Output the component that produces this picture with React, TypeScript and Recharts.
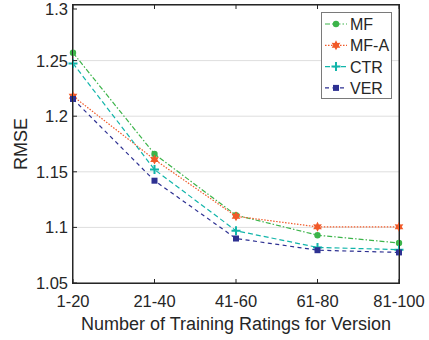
import { LineChart, Line, XAxis, YAxis, CartesianGrid } from 'recharts';

const buckets = ['1-20', '21-40', '41-60', '61-80', '81-100'];
const mf = [1.257, 1.166, 1.111, 1.093, 1.086];
const mfA = [1.218, 1.161, 1.11, 1.1005, 1.1005];
const ctr = [1.2475, 1.152, 1.097, 1.082, 1.08];
const ver = [1.2155, 1.142, 1.09, 1.0795, 1.0775];
const yTicks = [1.05, 1.1, 1.15, 1.2, 1.25, 1.3];

const INK = '#262626';
const FONT = '"Liberation Sans", Arial, Helvetica, sans-serif';

const series = [
  { key: 'MF', name: 'MF', color: '#3cb44a', dash: '5 2 1.5 2', marker: 'circle' },
  { key: 'MFA', name: 'MF-A', color: '#f15a29', dash: '1.5 1.5', marker: 'star' },
  { key: 'CTR', name: 'CTR', color: '#12b5aa', dash: '5 3', marker: 'plus' },
  { key: 'VER', name: 'VER', color: '#2e3192', dash: '4 3.5', marker: 'square' },
];

const data = buckets.map((b, i) => ({
  bucket: b,
  MF: mf[i],
  MFA: mfA[i],
  CTR: ctr[i],
  VER: ver[i],
}));

function Marker({ cx, cy, kind, color }: { cx: number; cy: number; kind: string; color: string }) {
  if (kind === 'circle') return <circle cx={cx} cy={cy} r={3.2} fill={color} />;
  if (kind === 'square') return <rect x={cx - 3} y={cy - 3} width={6} height={6} fill={color} />;
  if (kind === 'plus')
    return (
      <path d={`M${cx - 4.5},${cy}H${cx + 4.5}M${cx},${cy - 4.5}V${cy + 4.5}`} stroke={color} strokeWidth={2} fill="none" />
    );
  // six-pointed star
  const pts: string[] = [];
  for (let i = 0; i < 12; i++) {
    const r = i % 2 === 0 ? 5 : 2.8;
    const a = (Math.PI / 6) * i - Math.PI / 2;
    pts.push(`${cx + r * Math.cos(a)},${cy + r * Math.sin(a)}`);
  }
  return <polygon points={pts.join(' ')} fill={color} />;
}

function XTick({ x, y, payload }: any) {
  return (
    <g>
      <line x1={x} x2={x} y1={y} y2={y - 4} stroke={INK} strokeWidth={1} />
      <text x={x} y={y + 24} textAnchor="middle" fill={INK} fontSize={16.5} fontFamily={FONT}>
        {payload.value}
      </text>
    </g>
  );
}

function XTopTick({ x, y }: any) {
  return <line x1={x} x2={x} y1={y} y2={y + 4} stroke={INK} strokeWidth={1} />;
}

function YTick({ x, y, payload }: any) {
  return (
    <g>
      <line x1={x} x2={x + 4} y1={y} y2={y} stroke={INK} strokeWidth={1} />
      <text x={x - 5} y={y + 6} textAnchor="end" fill={INK} fontSize={16.5} fontFamily={FONT}>
        {payload.value}
      </text>
    </g>
  );
}

function YRightTick({ x, y }: any) {
  return <line x1={x} x2={x - 4} y1={y} y2={y} stroke={INK} strokeWidth={1} />;
}

function LegendBox() {
  return (
    <div
      style={{
        position: 'absolute',
        left: 321,
        top: 12,
        width: 71,
        height: 87,
        background: '#fff',
        border: '1px solid #7a7a7a',
        boxSizing: 'border-box',
      }}
    >
      <svg width={70} height={86} style={{ position: 'absolute', left: -1, top: -1 }}>
        {series.map((s, i) => {
          const cy = 12 + i * 21.3;
          return (
            <g key={s.key}>
              <line x1={4} x2={26} y1={cy} y2={cy} stroke={s.color} strokeWidth={1.2} strokeDasharray={s.dash} />
              <Marker cx={15} cy={cy} kind={s.marker} color={s.color} />
              <text x={29} y={cy + 6} fill={INK} fontSize={16} fontFamily={FONT}>
                {s.name}
              </text>
            </g>
          );
        })}
      </svg>
    </div>
  );
}

export default function App() {
  return (
    <div style={{ position: 'absolute', left: 0, top: 0, width: 429, height: 340, background: '#fff' }}>
      <LineChart width={429} height={340} data={data} margin={{ top: 4, right: 29, bottom: 0, left: 0 }}>
        <CartesianGrid vertical={false} stroke="#dedede" strokeWidth={1} />
        <XAxis
          dataKey="bucket"
          height={57}
          tick={<XTick />}
          tickLine={false}
          tickSize={0}
          tickMargin={0}
          axisLine={{ stroke: INK, strokeWidth: 1 }}
          interval={0}
          label={{ value: 'Number of Training Ratings for Version', position: 'insideBottom', offset: 10, fill: INK, fontSize: 18, fontFamily: FONT }}
        />
        <XAxis
          dataKey="bucket"
          xAxisId="top"
          orientation="top"
          height={1}
          tick={<XTopTick />}
          tickLine={false}
          tickSize={0}
          tickMargin={0}
          axisLine={{ stroke: INK, strokeWidth: 1 }}
          interval={0}
        />
        <YAxis
          width={73}
          domain={[1.05, 1.3]}
          ticks={yTicks}
          tick={<YTick />}
          tickLine={false}
          tickSize={0}
          tickMargin={0}
          axisLine={{ stroke: INK, strokeWidth: 1 }}
          label={{ value: 'RMSE', angle: -90, position: 'insideLeft', offset: 21, fill: INK, fontSize: 18, fontFamily: FONT, style: { textAnchor: 'middle' } }}
        />
        <YAxis
          yAxisId="right"
          orientation="right"
          width={1}
          domain={[1.05, 1.3]}
          ticks={yTicks}
          tick={<YRightTick />}
          tickLine={false}
          tickSize={0}
          tickMargin={0}
          axisLine={{ stroke: INK, strokeWidth: 1 }}
        />
        {series.map((s) => (
          <Line
            key={s.key}
            dataKey={s.key}
            name={s.name}
            stroke={s.color}
            strokeWidth={1.2}
            strokeDasharray={s.dash}
            isAnimationActive={false}
            dot={(p: any) => <Marker key={`${s.key}-${p.index}`} cx={p.cx} cy={p.cy} kind={s.marker} color={s.color} />}
            activeDot={false}
          />
        ))}
      </LineChart>
      {/* axes box frame (MATLAB "box on") */}
      <div
        style={{
          position: 'absolute',
          left: 72,
          top: 4,
          width: 328,
          height: 280,
          border: `1px solid ${INK}`,
          boxSizing: 'border-box',
          pointerEvents: 'none',
        }}
      />
      <LegendBox />
    </div>
  );
}
